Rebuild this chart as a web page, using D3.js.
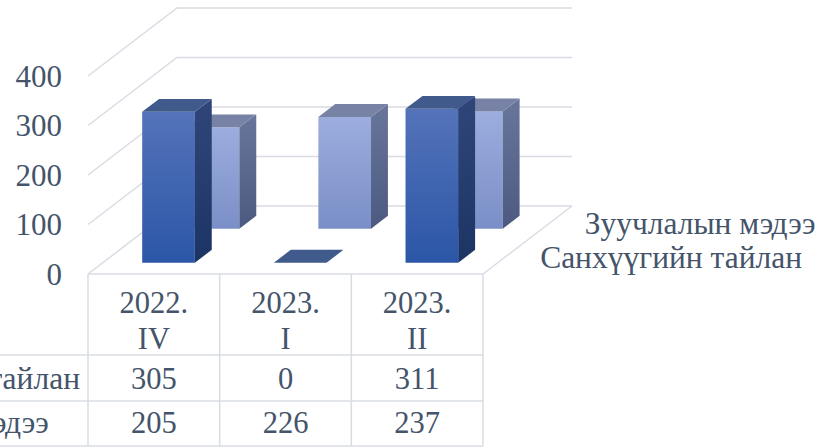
<!DOCTYPE html>
<html>
<head>
<meta charset="utf-8">
<script src="https://cdn.jsdelivr.net/npm/d3@7"></script>
<style>
  html, body { margin: 0; padding: 0; background: #fff; }
  svg { display: block; font-family: "Liberation Serif", "Times New Roman", serif; }
</style>
</head>
<body>
<div id="chart"></div>
<script>
// 3D clustered columns with a data table underneath (oblique projection).

const categories = ['2022. IV', '2023. I', '2023. II'];
const seriesNames = ['Санхүүгийн тайлан', 'Зуучлалын мэдээ'];
const finReport = [305, 0, 311];
const brokerNews = [205, 226, 237];
const yTicks = [0, 100, 200, 300, 400];

const series = [
  { name: seriesNames[0], values: finReport, front: ['#5473b9', '#2b56a7'], side: ['#30467a', '#1c3464'], top: '#415a8c' },
  { name: seriesNames[1], values: brokerNews, front: ['#9cadde', '#7a8fc7'], side: ['#68769c', '#4c5980'], top: '#7782a5' }
];

const W = 817, H = 448;
const DX = 89, DY = -68;           // depth offset of the back wall
const ink = '#44546a';
const grid = '#d9dce3';

const svg = d3.select('#chart').append('svg').attr('width', W).attr('height', H);
const defs = svg.append('defs');

const x = d3.scaleBand().domain(categories).range([88, 483]);
const y = d3.scaleLinear().domain([0, 400]).range([274, 76]);
const z = d3.scaleBand().domain(seriesNames).range([0, 1]);

const proj = (px, v, pz) => [px + pz * DX, y(v) + pz * DY];
const poly = (pts) => pts.map((p) => p.join(',')).join(' ');

// walls + floor
const g = svg.append('g');
yTicks.forEach((t) => {
  const a = proj(x.range()[0], t, 0), b = proj(x.range()[0], t, 1), c = proj(x.range()[1], t, 1);
  g.append('polyline').attr('points', poly([a, b, c]))
    .attr('fill', 'none').attr('stroke', grid).attr('stroke-width', 1.5);
});
const f0 = proj(x.range()[1], 0, 0), f1 = proj(x.range()[1], 0, 1);
g.append('line').attr('x1', f0[0]).attr('y1', f0[1]).attr('x2', f1[0]).attr('y2', f1[1])
  .attr('stroke', grid).attr('stroke-width', 1.5);

// y labels
svg.append('g').selectAll('text').data(yTicks).enter().append('text')
  .attr('x', 62).attr('y', (d) => y(d)).attr('dy', '0.35em')
  .attr('text-anchor', 'end').attr('fill', ink).style('font-size', '31px')
  .text((d) => d);

// gradients
series.forEach((s, i) => {
  const gf = defs.append('linearGradient').attr('id', 'gf' + i).attr('x1', 0).attr('y1', 0).attr('x2', 0).attr('y2', 1);
  gf.append('stop').attr('offset', 0).attr('stop-color', s.front[0]);
  gf.append('stop').attr('offset', 1).attr('stop-color', s.front[1]);
  const gs = defs.append('linearGradient').attr('id', 'gs' + i).attr('x1', 0).attr('y1', 0).attr('x2', 0).attr('y2', 1);
  gs.append('stop').attr('offset', 0).attr('stop-color', s.side[0]);
  gs.append('stop').attr('offset', 1).attr('stop-color', s.side[1]);
});

// bars, back row first
const bw = x.bandwidth() * 0.4;
const bars = svg.append('g');
series.slice().reverse().forEach((s) => {
  const si = series.indexOf(s);
  const z0 = z(s.name) + z.bandwidth() * 0.33;
  const z1 = z(s.name) + z.bandwidth() * 0.71;
  s.values.forEach((v, ci) => {
    const x0 = x(categories[ci]) + (x.bandwidth() - bw) / 2, x1 = x0 + bw;
    const bg = bars.append('g');
    if (v > 0) {
      bg.append('polygon').attr('points', poly([proj(x0, v, z0), proj(x1, v, z0), proj(x1, 0, z0), proj(x0, 0, z0)]))
        .attr('fill', `url(#gf${si})`);
      bg.append('polygon').attr('points', poly([proj(x1, v, z0), proj(x1, v, z1), proj(x1, 0, z1), proj(x1, 0, z0)]))
        .attr('fill', `url(#gs${si})`);
    }
    bg.append('polygon').attr('points', poly([proj(x0, v, z0), proj(x1, v, z0), proj(x1, v, z1), proj(x0, v, z1)]))
      .attr('fill', s.top);
  });
});

// series (depth) axis labels
svg.append('g').selectAll('text').data(seriesNames).enter().append('text')
  .attr('x', (d) => proj(x.range()[1], 0, z(d) + z.bandwidth() * 0.52)[0] + 34)
  .attr('y', (d) => proj(x.range()[1], 0, z(d) + z.bandwidth() * 0.52)[1] + 1)
  .attr('dy', '0.35em').attr('fill', ink).style('font-size', '31.5px')
  .text((d) => d);

// data table
const rowY = [274, 355, 401, 446];
const t = svg.append('g');
t.append('line').attr('x1', x.range()[0]).attr('x2', x.range()[1]).attr('y1', rowY[0]).attr('y2', rowY[0])
  .attr('stroke', grid).attr('stroke-width', 1.5);
rowY.slice(1).forEach((ry) => {
  t.append('line').attr('x1', -200).attr('x2', x.range()[1]).attr('y1', ry).attr('y2', ry)
    .attr('stroke', grid).attr('stroke-width', 1.5);
});
categories.concat(['end']).forEach((c, i) => {
  const cx = i < categories.length ? x(c) : x.range()[1];
  t.append('line').attr('x1', cx).attr('x2', cx).attr('y1', rowY[0]).attr('y2', rowY[3])
    .attr('stroke', grid).attr('stroke-width', 1.5);
});

categories.forEach((c) => {
  const parts = c.split(' ');
  const tx = t.append('text').attr('text-anchor', 'middle').attr('fill', ink).style('font-size', '30.5px');
  parts.forEach((p, k) => {
    tx.append('tspan').attr('x', x(c) + x.bandwidth() / 2).attr('y', 313 + k * 36).text(p);
  });
});

const valBase = [389, 433];
series.forEach((s, i) => {
  t.append('text').attr('x', -182).attr('y', valBase[i]).attr('fill', ink).style('font-size', '31.5px').text(s.name);
  s.values.forEach((v, ci) => {
    t.append('text').attr('x', x(categories[ci]) + x.bandwidth() / 2).attr('y', valBase[i])
      .attr('text-anchor', 'middle').attr('fill', ink).style('font-size', '30.5px').text(v);
  });
});
</script>
</body>
</html>
